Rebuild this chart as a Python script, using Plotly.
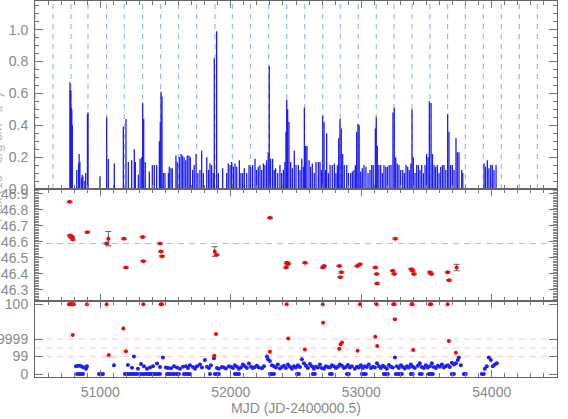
import plotly.graph_objects as go
from plotly.subplots import make_subplots

# ---- top panel: light curve (MJD, flux) ----
flux_mjd = [50768, 50771, 50775, 50778, 50782, 50786, 50820, 50834, 50838, 50844,
            50858, 50862, 50867, 50882, 50888, 50902, 50906, 50998, 51049, 51062,
            51108, 51177, 51197, 51215, 51241, 51261, 51269, 51292, 51305, 51318,
            51325, 51333, 51345, 51376, 51399, 51414, 51432, 51453, 51460, 51466,
            51473, 51483, 51496, 51522, 51529, 51542, 51552, 51580, 51590, 51606,
            51619, 51630, 51642, 51655, 51667, 51680, 51690, 51708, 51720, 51734,
            51748, 51764, 51777, 51790, 51816, 51830, 51841, 51853, 51866, 51874,
            51892, 51905, 51938, 51969, 51981, 51995, 52007, 52020, 52033, 52046,
            52066, 52078, 52091, 52104, 52122, 52140, 52153, 52168, 52186, 52198,
            52211, 52224, 52237, 52250, 52262, 52275, 52287, 52295, 52306, 52321,
            52333, 52344, 52360, 52377, 52390, 52403, 52415, 52423, 52429, 52436,
            52446, 52459, 52472, 52487, 52500, 52518, 52531, 52544, 52556, 52564,
            52574, 52584, 52600, 52612, 52625, 52640, 52653, 52671, 52684, 52695,
            52705, 52715, 52725, 52735, 52748, 52761, 52778, 52794, 52806, 52817,
            52827, 52837, 52847, 52858, 52870, 52889, 52902, 52919, 52932, 52944,
            52955, 52965, 52975, 52984, 52996, 53008, 53021, 53036, 53052, 53067,
            53080, 53092, 53108, 53115, 53123, 53135, 53149, 53162, 53174, 53188,
            53200, 53214, 53228, 53243, 53253, 53264, 53276, 53289, 53302, 53318,
            53330, 53343, 53356, 53368, 53380, 53389, 53399, 53412, 53425, 53438,
            53450, 53463, 53476, 53489, 53501, 53512, 53522, 53535, 53546, 53558,
            53570, 53583, 53596, 53609, 53622, 53634, 53648, 53662, 53672, 53685,
            53698, 53711, 53726, 53736, 53749, 53770, 53778, 53941, 53952, 53966,
            53978, 53992, 54004, 54017, 54033]
flux_val = [0.67, 0.62, 0.62, 0.51, 0.50, 0.40, 0.12, 0.16, 0.22, 0.17,
            0.07, 0.09, 0.08, 0.05, 0.10, 0.47, 0.48, 0.08, 0.45, 0.19,
            0.16, 0.39, 0.44, 0.17, 0.18, 0.25, 0.17, 0.09, 0.19, 0.20,
            0.54, 0.44, 0.17, 0.11, 0.15, 0.15, 0.15, 0.30, 0.42, 0.61,
            0.58, 0.10, 0.10, 0.10, 0.14, 0.13, 0.13, 0.21, 0.17, 0.20,
            0.22, 0.21, 0.20, 0.18, 0.21, 0.21, 0.20, 0.12, 0.15, 0.22,
            0.10, 0.12, 0.24, 0.10, 0.20, 0.12, 0.16, 0.15, 0.10, 0.82,
            0.99, 0.10, 0.13, 0.10, 0.16, 0.15, 0.17, 0.14, 0.16, 0.14,
            0.18, 0.10, 0.10, 0.13, 0.10, 0.15, 0.14, 0.15, 0.19, 0.12,
            0.14, 0.15, 0.12, 0.16, 0.15, 0.18, 0.23, 0.77, 0.19, 0.19,
            0.12, 0.13, 0.10, 0.15, 0.10, 0.12, 0.17, 0.36, 0.56, 0.50,
            0.42, 0.17, 0.13, 0.24, 0.15, 0.15, 0.12, 0.19, 0.14, 0.51,
            0.27, 0.27, 0.18, 0.14, 0.16, 0.10, 0.17, 0.17, 0.17, 0.12,
            0.46, 0.42, 0.12, 0.35, 0.10, 0.15, 0.15, 0.16, 0.10, 0.15,
            0.32, 0.44, 0.38, 0.22, 0.15, 0.15, 0.10, 0.10, 0.11, 0.12,
            0.15, 0.36, 0.41, 0.40, 0.11, 0.13, 0.15, 0.14, 0.10, 0.12,
            0.15, 0.15, 0.38, 0.45, 0.27, 0.15, 0.15, 0.10, 0.15, 0.14,
            0.14, 0.15, 0.15, 0.48, 0.51, 0.20, 0.16, 0.15, 0.12, 0.12,
            0.10, 0.15, 0.14, 0.12, 0.16, 0.50, 0.20, 0.10, 0.15, 0.15,
            0.12, 0.15, 0.10, 0.15, 0.22, 0.20, 0.55, 0.54, 0.22, 0.15,
            0.14, 0.15, 0.10, 0.14, 0.15, 0.15, 0.12, 0.47, 0.36, 0.15,
            0.15, 0.12, 0.32, 0.23, 0.23, 0.12, 0.10, 0.16, 0.14, 0.18,
            0.13, 0.15, 0.15, 0.12, 0.15]

# dashed orbital markers in the top panel
orbit_mjd = [50500, 50638, 50776, 50906, 51049, 51184, 51325, 51463, 51601, 51739,
             51879, 52012, 52150, 52291, 52429, 52567, 52705, 52839, 52977, 53115,
             53251, 53389, 53527, 53662, 53797, 53935, 54073, 54211, 54349]

# ---- middle panel: red measurements ----
mid_mjd = [50766, 50768, 50774, 50778, 50784, 50790, 50901, 51049, 51062, 51182,
           51197, 51325, 51330, 51458, 51465, 51473, 51877, 51892, 52301, 52424,
           52429, 52436, 52440, 52569, 52705, 52715, 52832, 52840, 52848, 52970,
           52990, 53108, 53118, 53121, 53241, 53253, 53261, 53384, 53394, 53404,
           53527, 53537, 53662, 53672, 53731]
mid_val = [46.85, 46.64, 46.63, 46.635, 46.63, 46.615, 46.66, 46.59, 46.62, 46.62,
           46.44, 46.63, 46.48, 46.59, 46.54, 46.51, 46.54, 46.52, 46.75, 46.44,
           46.47, 46.46, 46.465, 46.47, 46.44, 46.45, 46.45, 46.38, 46.41, 46.45,
           46.46, 46.44, 46.40, 46.34, 46.42, 46.40, 46.62, 46.43, 46.42, 46.40,
           46.41, 46.40, 46.41, 46.36, 46.44]
mid_err = [0.004, 0.004, 0.004, 0.004, 0.004, 0.004, 0.004, 0.004, 0.045, 0.004,
           0.004, 0.004, 0.004, 0.004, 0.004, 0.004, 0.03, 0.004, 0.004, 0.004,
           0.004, 0.004, 0.004, 0.004, 0.004, 0.004, 0.004, 0.004, 0.004, 0.004,
           0.004, 0.004, 0.004, 0.004, 0.004, 0.004, 0.004, 0.004, 0.004, 0.004,
           0.004, 0.004, 0.004, 0.004, 0.02]
mid_ref = 46.59

# ---- bottom panel ----
red_mjd = [50760, 50768, 50776, 50784, 50791, 50799, 50898, 51049, 51330, 51463,
           51473, 52429, 52705, 52990, 53118, 53245, 53255, 53385, 53393, 53526,
           53536, 53662,
           50789, 51065, 51177, 51197, 51887, 51874, 52300, 52440, 52568, 52708,
           52831, 52842, 52852, 52972, 53107, 53122, 53258, 53398, 53671, 53725]
red_val = [4, 4, 4, 4, 4, 4, 4, 4, 4, 4,
           4, 4, 4, 4, 4, 4, 4, 4, 4, 4,
           4, 4,
           2.23, 1.09, 2.61, 1.31, 2.29, 1.05, 1.27, 2.04, 1.41, 2.93,
           1.45, 1.71, 1.81, 1.33, 2.13, 1.60, 3.13, 1.37, 1.89, 1.22]

blue_mjd = [50814, 50829, 50845, 50860, 50875, 50891, 50898, 51105, 51212, 51243,
            51258, 51289, 51312, 51335, 51358, 51381, 51404, 51435, 51458, 51480,
            51503, 51519, 51542, 51565, 51588, 51611, 51634, 51657, 51672, 51687,
            51710, 51726, 51741, 51764, 51779, 51802, 51818, 51833, 51848, 51871,
            51894, 51909, 51932, 51948, 51963, 51986, 52001, 52017, 52032, 52047,
            52063, 52078, 52093, 52109, 52124, 52139, 52155, 52170, 52185, 52201,
            52216, 52239, 52254, 52277, 52285, 52300, 52315, 52331, 52346, 52361,
            52377, 52392, 52407, 52423, 52438, 52453, 52469, 52484, 52499, 52515,
            52530, 52545, 52561, 52576, 52591, 52607, 52622, 52637, 52652, 52668,
            52683, 52698, 52714, 52729, 52744, 52760, 52775, 52790, 52806, 52821,
            52836, 52852, 52867, 52882, 52898, 52913, 52928, 52951, 52967, 52982,
            52997, 53012, 53028, 53043, 53058, 53074, 53089, 53104, 53120, 53135,
            53150, 53166, 53181, 53196, 53212, 53227, 53242, 53258, 53273, 53288,
            53304, 53319, 53334, 53350, 53365, 53380, 53395, 53411, 53434, 53449,
            53464, 53480, 53495, 53510, 53526, 53541, 53556, 53572, 53587, 53602,
            53618, 53633, 53648, 53664, 53679, 53694, 53710, 53725, 53740, 53748,
            53763, 53947, 53962, 53978, 53993, 54008, 54024, 54039]
blue_val = [0.45, 0.48, 0.47, 0.42, 0.38, 0.30, 0.45, 0.50, 0.52, 0.36,
            1.00, 0.30, 0.57, 0.45, 0.30, 0.38, 0.45, 0.60, 0.40, 0.95,
            0.38, 0.35, 0.33, 0.45, 0.38, 0.30, 0.42, 0.45, 0.35, 0.50,
            0.40, 0.30, 0.45, 0.55, 0.38, 0.80, 0.42, 0.35, 0.50, 0.91,
            0.35, 0.30, 0.40, 0.38, 0.32, 0.45, 0.40, 0.35, 0.50, 0.42,
            0.30, 0.38, 0.55, 0.45, 0.35, 0.60, 0.42, 0.35, 0.40, 0.48,
            0.38, 0.33, 0.45, 1.00, 0.85, 0.75, 0.50, 0.45, 0.38, 0.55,
            0.32, 0.40, 0.48, 0.35, 0.55, 0.42, 0.30, 0.45, 0.38, 0.50,
            0.40, 0.85, 0.62, 0.48, 0.35, 0.58, 0.45, 0.30, 0.42, 0.38,
            0.55, 0.35, 0.30, 0.45, 0.40, 0.38, 0.50, 0.45, 0.35, 0.42,
            0.55, 0.48, 0.35, 0.40, 0.52, 0.38, 0.45, 0.30, 0.42, 0.38,
            0.50, 0.35, 0.45, 0.40, 0.55, 0.35, 0.42, 0.38, 0.62, 0.45,
            0.35, 0.48, 0.40, 0.30, 0.52, 0.42, 0.38, 0.95, 0.45, 0.35,
            0.50, 0.40, 0.32, 0.45, 0.38, 0.55, 0.42, 0.35, 0.48, 0.62,
            0.40, 0.35, 0.50, 0.38, 0.45, 0.62, 0.40, 0.35, 0.48, 0.42,
            0.55, 0.38, 0.45, 0.50, 0.40, 0.65, 0.55, 0.62, 0.80, 0.95,
            0.50, 0.30, 0.45, 0.95, 0.80, 0.45, 0.55, 0.62]

zero_mjd = [50822, 50837, 50852, 50868, 50990, 51006, 51021, 51189, 51205, 51220,
            51235, 51251, 51266, 51281, 51304, 51320, 51335, 51350, 51366, 51381,
            51396, 51412, 51427, 51442, 51458, 51511, 51526, 51542, 51557, 51572,
            51588, 51603, 51641, 51657, 51672, 51687, 51841, 51879, 51894, 51909,
            52032, 52047, 52063, 52300, 52315, 52331, 52507, 52522, 52629, 52645,
            52760, 52775, 52890, 52905, 53005, 53020, 53035, 53173, 53189, 53204,
            53265, 53281, 53296, 53311, 53380, 53395, 53449, 53464, 53518, 53533,
            53549, 53694, 53710, 53786, 53801, 53924, 53939]

bottom_ticks = [0, 1, 2, 4]
bottom_labels = ['0', '99', '9999', '100']
bottom_refs = [1, 1.5, 2]

x_ticks = [51000, 52000, 53000, 54000]

GRAY = '#8a8a8a'
FONT = dict(family='Liberation Sans, Arial, sans-serif', size=14, color=GRAY)

fig = make_subplots(rows=3, cols=1, shared_xaxes=True, vertical_spacing=0,
                    row_heights=[0.5, 0.2984, 0.2016])

# light curve as vertical sticks
lc_x, lc_y = [], []
for m, v in zip(flux_mjd, flux_val):
    lc_x += [m, m, None]
    lc_y += [0, v, None]
fig.add_trace(go.Scatter(x=lc_x, y=lc_y, mode='lines',
                         line=dict(color='#1c1cf5', width=1.3),
                         hoverinfo='skip'), row=1, col=1)

for m in orbit_mjd:
    fig.add_shape(type='line', x0=m, x1=m, y0=0, y1=1, xref='x', yref='y domain',
                  line=dict(color='#86aaf2', width=1, dash='5px,5px'), layer='below')

fig.add_shape(type='line', x0=0, x1=1, y0=mid_ref, y1=mid_ref, xref='x2 domain', yref='y2',
              line=dict(color='#ff9f9f', width=1.2, dash='6px,5px'), layer='below')
for r in bottom_refs:
    fig.add_shape(type='line', x0=0, x1=1, y0=r, y1=r, xref='x3 domain', yref='y3',
                  line=dict(color='#ffcaca', width=1, dash='6px,5px'), layer='below')

fig.add_trace(go.Scatter(x=mid_mjd, y=mid_val, mode='markers',
                         marker=dict(color='#ff0000', size=4),
                         error_x=dict(type='constant', value=10, color='#999999',
                                      thickness=1, width=0),
                         error_y=dict(type='data', array=mid_err, color='#666666',
                                      thickness=1, width=3)),
              row=2, col=1)

fig.add_trace(go.Scatter(x=zero_mjd, y=[0] * len(zero_mjd), mode='markers',
                         marker=dict(color='#1e1ef5', size=4)), row=3, col=1)
fig.add_trace(go.Scatter(x=blue_mjd, y=blue_val, mode='markers',
                         marker=dict(color='#1e1ef5', size=4)), row=3, col=1)
fig.add_trace(go.Scatter(x=red_mjd, y=red_val, mode='markers',
                         marker=dict(color='#ff0000', size=4)), row=3, col=1)

xcommon = dict(range=[50500, 54500], tickmode='array', tickvals=x_ticks, tickformat='d',
               ticks='inside', ticklen=7, tickcolor='#777', mirror='allticks',
               showline=True, linecolor='#666', linewidth=1, showgrid=False,
               zeroline=False, tickfont=FONT, automargin=False,
               minor=dict(dtick=100, ticks='inside', ticklen=4, tickcolor='#777'))
fig.update_xaxes(**xcommon)
fig.update_xaxes(showticklabels=True, row=3, col=1, ticklabelstandoff=2,
                 title=dict(text='MJD (JD-2400000.5)', font=FONT, standoff=2))
fig.update_xaxes(showticklabels=False, row=1, col=1)
fig.update_xaxes(showticklabels=False, row=2, col=1)

ycommon = dict(ticks='inside', ticklen=8, tickcolor='#777', mirror='allticks',
               showline=True, linecolor='#666', linewidth=1, showgrid=False,
               zeroline=False, tickfont=FONT, automargin=False, ticklabelstandoff=3)
fig.update_yaxes(**ycommon)
fig.update_yaxes(range=[0, 1.18], dtick=0.2, tickformat='.1f',
                 minor=dict(dtick=0.05, ticks='inside', ticklen=4, tickcolor='#777'),
                 row=1, col=1)
fig.update_yaxes(range=[46.23, 46.93], dtick=0.1, tickformat='.1f',
                 minor=dict(dtick=0.01, ticks='inside', ticklen=4, tickcolor='#888'),
                 row=2, col=1)
fig.update_yaxes(range=[-0.17, 4.17], tickmode='array', tickvals=bottom_ticks,
                 ticktext=bottom_labels, row=3, col=1)

# faint flux title, mostly past the left edge as in the original figure
fig.add_annotation(text='Flux (10<sup>-9</sup> erg cm<sup>-2</sup> s<sup>-1</sup>)',
                   xref='paper', yref='paper', x=-0.055, xanchor='right', y=0.76,
                   textangle=-90, showarrow=False,
                   font=dict(family=FONT['family'], size=13, color='#b4b4b4'))

fig.update_layout(width=568, height=419, margin=dict(l=35, r=11, t=1, b=42),
                  paper_bgcolor='white', plot_bgcolor='white', showlegend=False,
                  font=FONT)

# drop the default page margin so the figure sits at the window's corner
fig.write_html("out.html", config={'displayModeBar': False},
               post_script="document.body.style.margin='0';")
